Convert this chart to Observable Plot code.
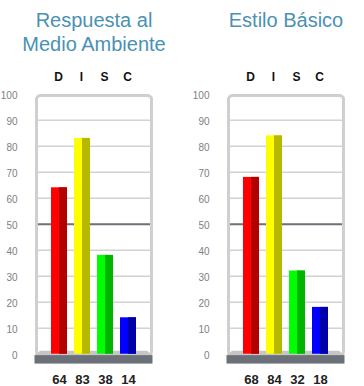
<!DOCTYPE html>
<html>
<head>
<meta charset="utf-8">
<script src="https://cdn.jsdelivr.net/npm/d3@7"></script>
<script src="https://cdn.jsdelivr.net/npm/@observablehq/plot@0.6"></script>
<style>
  html, body { margin: 0; padding: 0; background: #fff; }
  body { width: 364px; height: 386px; position: relative; overflow: hidden; font-family: "Liberation Sans", Arial, sans-serif; }
  .panel { position: absolute; top: 0; width: 172px; height: 386px; }
  .title { position: absolute; top: 8.4px; left: 0; width: 188px; text-align: center; font-size: 20px; line-height: 24px; color: #4a91b4; }
  .panel svg { position: absolute; top: 0; left: 0; }
</style>
</head>
<body>
<script>
const categories = ["D", "I", "S", "C"];
const titles = ["Respuesta al<br>Medio Ambiente", "Estilo Básico"];
const valuesRespuesta = [64, 83, 38, 14];
const valuesBasico = [68, 84, 32, 18];
const yTicks = [0, 10, 20, 30, 40, 50, 60, 70, 80, 90, 100];
const lightColors = ["#ff0000", "#ffff00", "#00ff00", "#0000ff"];
const darkColors = ["#b30000", "#b8b800", "#00b400", "#0000a8"];

function floorMark(index, scales, values, dims) {
  const yTop = scales.y(1.1), yBot = scales.y(-0.55);
  const xl = dims.marginLeft, xr = dims.width - dims.marginRight;
  const p = d3.create("svg:path")
    .attr("d", `M${xl + 4},${yTop}L${xr - 4},${yTop}L${xr + 1.5},${yBot}L${xl - 1.5},${yBot}Z`)
    .attr("fill", "#c6c6c6");
  return p.node();
}

function makeChart(values) {
  const data = categories.map((k, i) => ({k, v: values[i], light: lightColors[i], dark: darkColors[i]}));
  return Plot.plot({
    width: 172,
    height: 386,
    marginLeft: 36,
    marginRight: 21,
    marginTop: 95,
    marginBottom: 31,
    style: {fontFamily: "'Liberation Sans', Arial, sans-serif", background: "transparent"},
    x: {domain: categories, paddingInner: 0.3, paddingOuter: 0.65, axis: null},
    y: {domain: [0, 100], range: [353.7, 93.7], axis: null},
    color: {type: "identity"},
    marks: [
      Plot.ruleY(yTicks.filter(t => t > 0 && t < 100 && t !== 50), {stroke: "#d2d2d2", strokeWidth: 1.5}),
      Plot.ruleY([50], {stroke: "#6b7079", strokeWidth: 2}),
      Plot.frame({stroke: "#cfcfcf", strokeWidth: 3, rx: 4}),
      floorMark,
      Plot.rect([0], {y1: -0.55, y2: -3.8, fill: "#6c7179", insetLeft: -1.5, insetRight: -1.5}),
      Plot.barY(data, {x: "k", y: "v", fill: "light"}),
      Plot.barY(data, {x: "k", y: "v", fill: "dark", insetLeft: 8}),
      Plot.axisY(yTicks, {anchor: "left", tickSize: 0, tickPadding: 19, fontSize: 10, fill: "#808080", dy: 2, label: null}),
      Plot.axisX({anchor: "top", tickSize: 0, tickPadding: 15, fontSize: 12, fontWeight: "bold", fill: "#111", dx: -1, label: null}),
      Plot.text(data, {x: "k", text: d => String(d.v), frameAnchor: "bottom", dy: 28.5, fontSize: 13, fontWeight: "bold", fill: "#222"})
    ]
  });
}

[valuesRespuesta, valuesBasico].forEach((vals, i) => {
  const panel = document.createElement("div");
  panel.className = "panel";
  panel.style.left = (i * 192) + "px";
  const svg = makeChart(vals);
  panel.appendChild(svg);
  const t = document.createElement("div");
  t.className = "title";
  t.innerHTML = titles[i];
  panel.appendChild(t);
  document.body.appendChild(panel);
});
</script>
</body>
</html>
